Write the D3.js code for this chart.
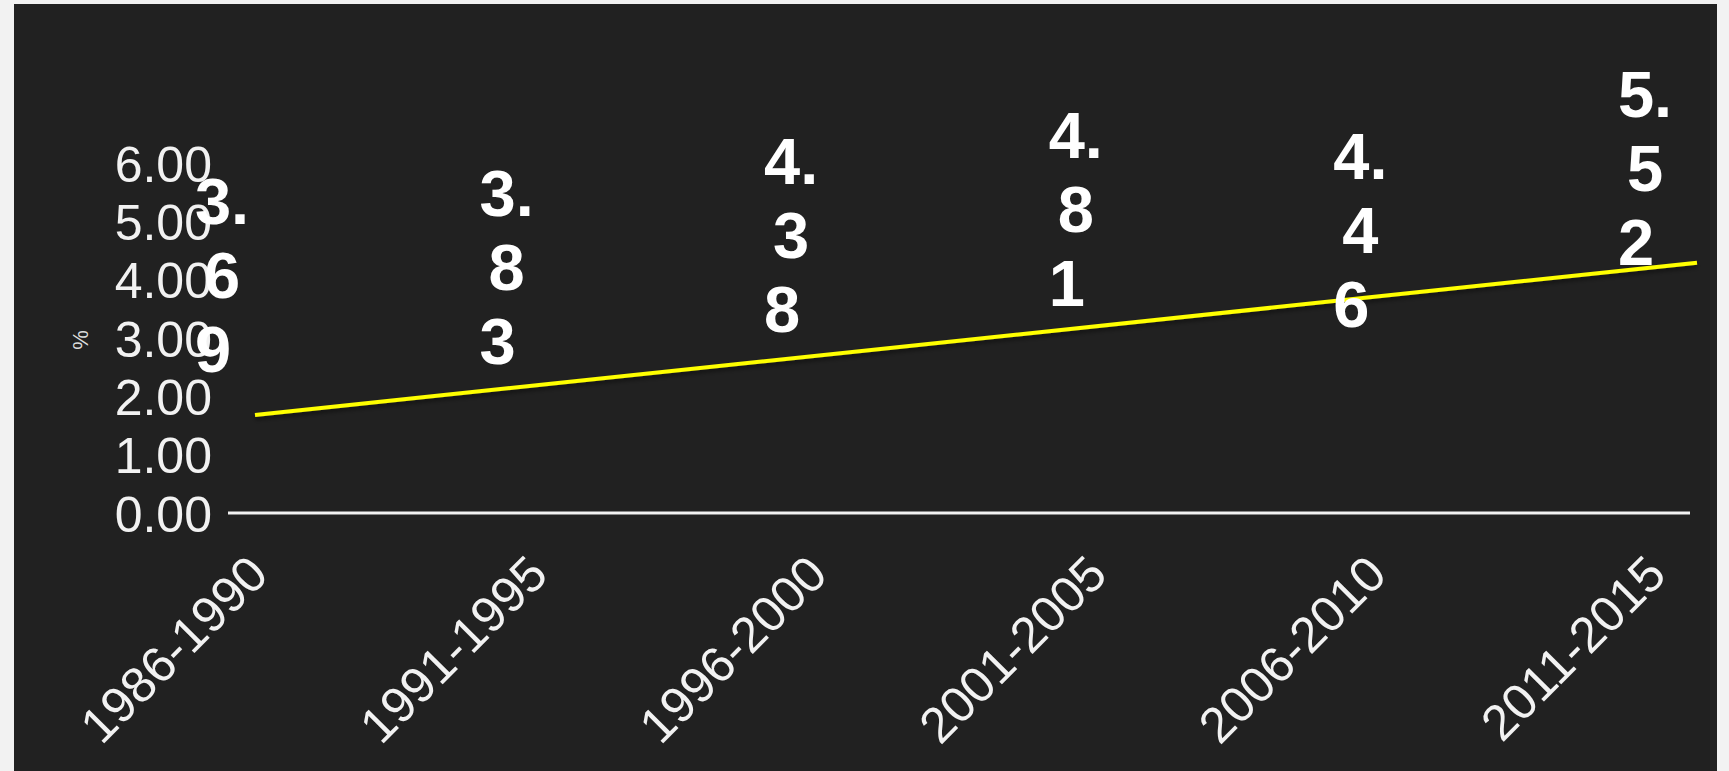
<!DOCTYPE html>
<html>
<head>
<meta charset="utf-8">
<script src="https://cdn.jsdelivr.net/npm/d3@7"></script>
<style>
  html, body { margin: 0; padding: 0; background: #f2f2f2; overflow: hidden; }
  svg { display: block; font-family: "Liberation Sans", Arial, Helvetica, sans-serif; }
</style>
</head>
<body>
<svg id="chart" width="1729" height="771"></svg>
<script>
// Five-year periods and their average rate (%)
const categories = ["1986-1990", "1991-1995", "1996-2000", "2001-2005", "2006-2010", "2011-2015"];
const values = [3.69, 3.83, 4.38, 4.81, 4.46, 5.52];

// Trend line end points (first and last period)
const trendCategories = ["1986-1990", "2011-2015"];
const trendValues = [1.68, 4.29];

// Value axis ticks
const yTicks = [0, 1, 2, 3, 4, 5, 6];
const yAxisTitle = "%";

const svg = d3.select("#chart");
const W = 1729, H = 771;

// dark panel
svg.append("rect")
  .attr("x", 14).attr("y", 4)
  .attr("width", 1717 - 14).attr("height", H - 4)
  .attr("fill", "#212121");

const y = d3.scaleLinear().domain([0, 6]).range([513, 163]);

// category positions for the period labels, value labels and trend
const xTick = d3.scalePoint().domain(categories).range([270, 1668]);
const xLabel = d3.scalePoint().domain(categories).range([222, 1645]);
const xTrend = d3.scalePoint().domain(categories).range([255, 1697]);

// value axis (labels only)
const yAxis = svg.append("g")
  .attr("transform", "translate(228,0)")
  .call(d3.axisLeft(y).tickValues(yTicks).tickFormat(d3.format(".2f")).tickSize(0).tickPadding(16));
yAxis.select(".domain").remove();
yAxis.selectAll("text")
  .attr("dy", "0.36em")
  .attr("fill", "#f2f2f2")
  .style("font-size", "50px");

// baseline
svg.append("line")
  .attr("x1", 228).attr("x2", 1690)
  .attr("y1", y(0)).attr("y2", y(0))
  .attr("stroke", "#f2f2f2").attr("stroke-width", 3);

// axis title
svg.append("text")
  .attr("transform", `translate(80,${(y(3) + 2)}) rotate(-90)`)
  .attr("text-anchor", "middle")
  .attr("dy", "0.35em")
  .attr("fill", "#dcdcdc")
  .style("font-size", "22px")
  .text(yAxisTitle);

// period axis with slanted labels
const xAxis = svg.append("g")
  .attr("transform", "translate(0,577)")
  .call(d3.axisBottom(xTick).tickSize(0));
xAxis.select(".domain").remove();
xAxis.selectAll("text")
  .attr("y", 0).attr("dy", 0)
  .attr("text-anchor", "end")
  .attr("transform", "rotate(-45)")
  .attr("fill", "#f2f2f2")
  .style("font-size", "50px");

// trend line
const defs = svg.append("defs");
const f = defs.append("filter").attr("id", "lineShadow")
  .attr("x", "-5%").attr("y", "-50%").attr("width", "110%").attr("height", "200%");
f.append("feDropShadow").attr("dx", 0).attr("dy", 3).attr("stdDeviation", 2)
  .attr("flood-color", "#000").attr("flood-opacity", 0.45);

const trend = trendCategories.map((c, i) => ({ c, v: trendValues[i] }));
svg.append("path")
  .datum(trend)
  .attr("d", d3.line().x(d => xTrend(d.c)).y(d => y(d.v)))
  .attr("fill", "none")
  .attr("stroke", "#ffff00")
  .attr("stroke-width", 4)
  .attr("filter", "url(#lineShadow)");

// value labels, wrapped into narrow columns
const lineGap = 74;
const fmt = d3.format(".2f");
values.forEach((v, i) => {
  const s = fmt(v);
  const parts = [s.slice(0, 2), s.slice(2, 3), s.slice(3)];
  const t = svg.append("text")
    .attr("text-anchor", "middle")
    .attr("fill", "#ffffff")
    .style("font-size", "65px")
    .style("font-weight", "bold");
  parts.forEach((p, k) => {
    t.append("tspan")
      .attr("x", xLabel(categories[i]) + (k === 2 ? -9 : 0))
      .attr("y", y(v) + (k - 1) * lineGap)
      .text(p);
  });
});
</script>
</body>
</html>
